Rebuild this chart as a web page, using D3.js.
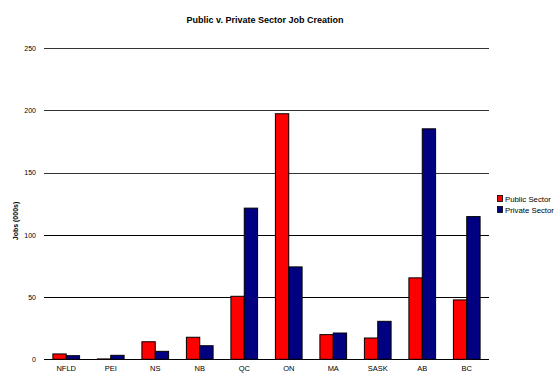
<!DOCTYPE html>
<html>
<head>
<meta charset="utf-8">
<script src="https://cdn.jsdelivr.net/npm/d3@7"></script>
<style>
  body { margin: 0; background: #fff; }
  text { font-family: "Liberation Sans", Arial, sans-serif; }
</style>
</head>
<body>
<div id="chart"></div>
<script>
// chart data
var provinces = ["NFLD", "PEI", "NS", "NB", "QC", "ON", "MA", "SASK", "AB", "BC"];
var seriesNames = ["Public Sector", "Private Sector"];
var publicJobs = [4.3, 0.3, 14.1, 17.7, 50.6, 197.2, 19.8, 17.1, 65.4, 47.7];
var privateJobs = [2.9, 3.2, 6.4, 10.9, 121.4, 74.2, 21.1, 30.5, 185.1, 114.6];
var yTicks = [0, 50, 100, 150, 200, 250];
var colors = ["#ff0000", "#000080"];

var W = 558, H = 373;
var margin = { top: 48, left: 44, right: 69, bottom: 13.5 };
var width = W - margin.left - margin.right;
var height = H - margin.top - margin.bottom - 0.2;

var svg = d3.select("#chart").append("svg")
    .attr("width", W)
    .attr("height", H);

var g = svg.append("g")
    .attr("transform", "translate(" + margin.left + "," + margin.top + ")");

// scales
var x = d3.scaleBand()
    .domain(provinces)
    .range([0, width])
    .paddingInner(0.4)
    .paddingOuter(0.2);

var x1 = d3.scaleBand()
    .domain(seriesNames)
    .range([0, x.bandwidth()]);

var y = d3.scaleLinear()
    .domain([0, 250])
    .range([height, 0]);

// gridlines
g.append("g")
    .selectAll("line")
    .data(yTicks)
    .enter().append("line")
    .attr("x1", 0)
    .attr("x2", width)
    .attr("y1", function(d) { return Math.round(y(d)) + 0.5; })
    .attr("y2", function(d) { return Math.round(y(d)) + 0.5; })
    .attr("stroke", function(d) { return d > 100 ? "#333" : "#000"; })
    .attr("stroke-width", 1);

// y axis labels
var yAxis = d3.axisLeft(y).tickValues(yTicks).tickSize(0).tickPadding(8);
g.append("g")
    .call(yAxis)
    .call(function(s) { s.select(".domain").remove(); })
    .selectAll("text")
    .attr("font-size", 7)
    .attr("fill", "#000");

// x axis labels (kept just inside the bottom edge)
var xAxis = d3.axisBottom(x).tickSize(0).tickPadding(6);
g.append("g")
    .attr("transform", "translate(0," + height + ")")
    .call(xAxis)
    .call(function(s) { s.select(".domain").remove(); })
    .selectAll("text")
    .attr("font-size", 7.5)
    .attr("fill", "#000");

// bars
var rows = provinces.map(function(p, i) {
    return { province: p, values: [publicJobs[i], privateJobs[i]] };
});

var groups = g.selectAll(".group")
    .data(rows)
    .enter().append("g")
    .attr("class", "group")
    .attr("transform", function(d) { return "translate(" + x(d.province) + ",0)"; });

groups.selectAll("rect")
    .data(function(d) {
        return d.values.map(function(v, j) { return { key: seriesNames[j], value: v, idx: j }; });
    })
    .enter().append("rect")
    .attr("x", function(d) { return x1(d.key); })
    .attr("y", function(d) { return y(d.value); })
    .attr("width", x1.bandwidth())
    .attr("height", function(d) { return height - y(d.value); })
    .attr("fill", function(d) { return colors[d.idx]; })
    .attr("stroke", "#000")
    .attr("stroke-width", 1);

// title
svg.append("text")
    .attr("x", 265)
    .attr("y", 23)
    .attr("text-anchor", "middle")
    .attr("font-size", 9)
    .attr("font-weight", "bold")
    .text("Public v. Private Sector Job Creation");

// y label
svg.append("text")
    .attr("transform", "translate(18," + 221 + ") rotate(-90)")
    .attr("text-anchor", "middle")
    .attr("font-size", 7)
    .attr("font-weight", "bold")
    .text("Jobs (000s)");

// legend
var legend = svg.append("g")
    .attr("transform", "translate(497,195)");

legend.selectAll("rect")
    .data(seriesNames)
    .enter().append("rect")
    .attr("x", 0.5)
    .attr("y", function(d, i) { return i * 11 + 0.5; })
    .attr("width", 5)
    .attr("height", 6)
    .attr("fill", function(d, i) { return colors[i]; })
    .attr("stroke", "#000")
    .attr("stroke-width", 0.8);

legend.selectAll("text")
    .data(seriesNames)
    .enter().append("text")
    .attr("x", 8)
    .attr("y", function(d, i) { return i * 11 + 6.5; })
    .attr("font-size", 7.8)
    .text(function(d) { return d; });
</script>
</body>
</html>
